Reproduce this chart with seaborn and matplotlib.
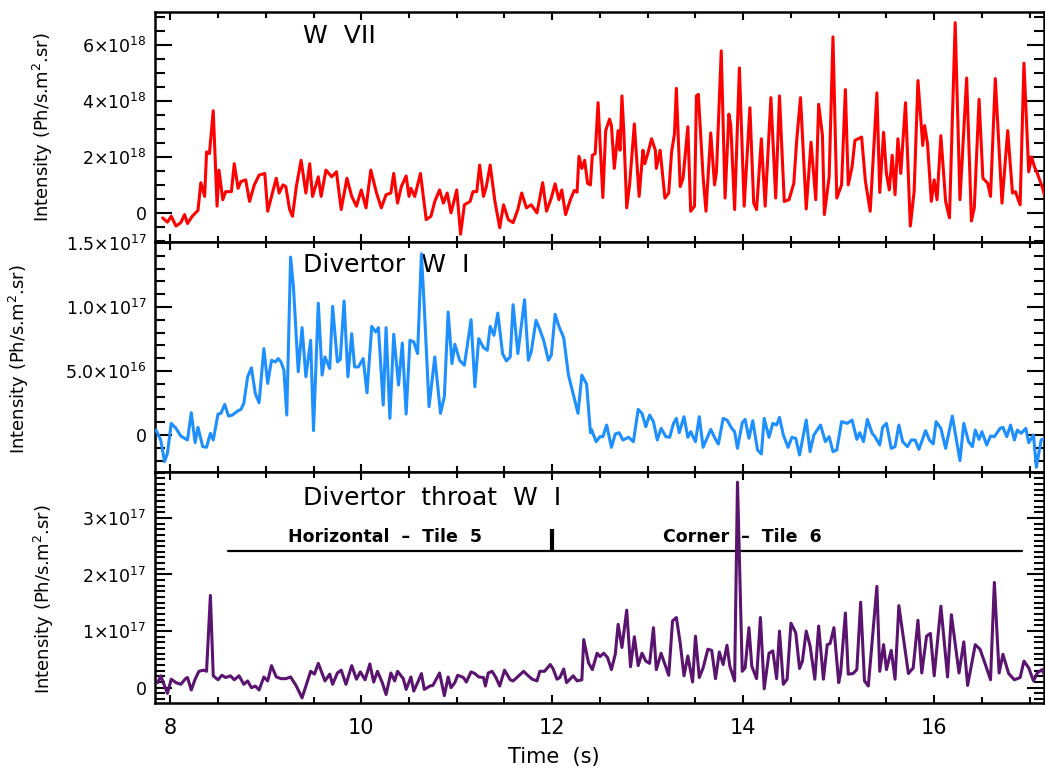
import numpy as np
import matplotlib
matplotlib.use("Agg")
import matplotlib.pyplot as plt
from matplotlib.ticker import MultipleLocator, FuncFormatter
import seaborn as sns

# ---------------------------------------------------------------
# W VII line intensity (time in s, intensity in 1e18 Ph/s.m2.sr)
# ---------------------------------------------------------------
wvii_time = [
    7.92, 7.97, 8.01, 8.06, 8.11, 8.15, 8.18, 8.23, 8.29, 8.32, 8.36, 8.38, 8.41, 8.45,
    8.49, 8.51, 8.55, 8.58, 8.64, 8.67, 8.71, 8.74, 8.79, 8.83, 8.88, 8.93, 8.99, 9.02,
    9.07, 9.11, 9.14, 9.18, 9.21, 9.25, 9.28, 9.32, 9.37, 9.42, 9.46, 9.49, 9.55, 9.58,
    9.63, 9.69, 9.74, 9.79, 9.85, 9.90, 9.95, 10.00, 10.05, 10.10, 10.16, 10.21, 10.26,
    10.31, 10.34, 10.38, 10.42, 10.47, 10.50, 10.52, 10.56, 10.62, 10.68, 10.73, 10.77,
    10.82, 10.86, 10.90, 10.94, 11.00, 11.04, 11.08, 11.14, 11.17, 11.21, 11.24, 11.28,
    11.31, 11.35, 11.40, 11.45, 11.49, 11.54, 11.59, 11.64, 11.68, 11.73, 11.78, 11.84,
    11.90, 11.94, 11.99, 12.03, 12.07, 12.10, 12.14, 12.19, 12.23, 12.26,
    12.28, 12.31, 12.34, 12.37, 12.40, 12.42, 12.45, 12.48, 12.53, 12.56, 12.60, 12.62,
    12.65, 12.69, 12.71, 12.73, 12.75, 12.78, 12.81, 12.86, 12.91, 12.95, 12.97, 13.01,
    13.04, 13.08, 13.09, 13.13, 13.18, 13.22, 13.25, 13.28, 13.30, 13.34, 13.37, 13.42,
    13.45, 13.49, 13.51, 13.53, 13.58, 13.61, 13.66, 13.70, 13.72, 13.77, 13.81, 13.85,
    13.87, 13.91, 13.96, 14.01, 14.07, 14.11, 14.14, 14.19, 14.23, 14.29, 14.34, 14.38,
    14.43, 14.48, 14.53, 14.56, 14.60, 14.66, 14.71, 14.76, 14.79, 14.83, 14.85, 14.90,
    14.94, 14.98, 15.03, 15.07, 15.10, 15.14, 15.17, 15.24, 15.28, 15.33, 15.40, 15.43,
    15.47, 15.50, 15.53, 15.56, 15.59, 15.62, 15.65, 15.70, 15.75, 15.79, 15.83, 15.88,
    15.90, 15.93, 15.97, 16.00, 16.03, 16.07, 16.12, 16.16, 16.22, 16.27, 16.34, 16.39,
    16.42, 16.47, 16.51, 16.56, 16.59, 16.64, 16.71, 16.77, 16.82, 16.85, 16.90, 16.94,
    16.99, 17.02, 17.05, 17.08, 17.13, 17.17,
]
wvii_value = [
    -0.18, -0.33, -0.12, -0.47, -0.35, -0.06, -0.38, -0.12, 0.09, 1.08, 0.59, 2.18, 2.12, 3.65,
    0.24, 1.53, 0.47, 0.76, 0.76, 1.76, 0.88, 1.12, 1.18, 0.41, 1.00, 1.35, 1.41, 0.06,
    0.71, 1.24, 0.71, 1.00, 0.94, 0.12, -0.12, 0.94, 1.88, 0.71, 1.76, 0.59, 1.29, 0.59,
    1.53, 1.29, 1.47, 0.12, 1.24, 0.59, 0.24, 0.82, 0.18, 1.53, 0.71, 0.18, 0.65,
    0.71, 1.41, 0.35, 0.94, 1.32, 0.59, 0.88, 0.59, 1.41, -0.24, -0.12, 0.41,
    0.82, 0.35, 0.71, 0.00, 0.82, -0.76, 0.29, 0.41, 0.76, 0.76, 1.71, 0.59,
    0.94, 1.71, 0.41, -0.53, 0.29, -0.24, -0.35, 0.12, 0.71, 0.18, 0.29, 0.00,
    1.08, 0.06, 0.53, 1.04, 0.47, 0.82, -0.06, 0.47, 0.80, 0.74,
    2.02, 1.59, 1.88, 1.06, 1.00, 2.06, 2.12, 3.94, 0.55, 2.94, 3.35, 3.12,
    1.59, 2.94, 2.24, 4.18, 2.88, 0.18, 1.00, 3.18, 0.59, 2.24, 1.76, 2.24,
    2.65, 2.24, 1.59, 2.24, 0.53, 0.71, 2.18, 2.82, 4.45, 0.94, 1.24, 3.08,
    0.06, 0.24, 4.18, 4.24, 1.29, 0.06, 2.86, 1.00, 1.47, 5.79, 0.53, 3.53,
    3.12, 0.12, 5.18, 0.24, 3.76, 0.35, 0.12, 2.65, 0.24, 4.12, 0.53, 4.18,
    0.41, 0.47, 1.06, 2.59, 4.12, 0.14, 2.53, 0.47, 3.88, 2.76, -0.06, 1.29,
    6.29, 0.53, 1.00, 4.41, 1.00, 1.65, 2.59, 2.71, 1.12, 0.06, 4.29, 0.73,
    2.88, 1.41, 0.82, 2.06, 0.65, 2.65, 1.41, 3.94, -0.47, 0.76, 4.73, 2.41,
    3.12, 2.47, 0.41, 1.18, 0.47, 2.76, 0.41, -0.18, 6.80, 0.47, 4.82, -0.29,
    0.18, 4.06, 1.24, 1.06, 0.59, 4.80, 0.35, 2.94, 0.71, 0.76, 0.29, 5.35,
    1.47, 2.00, 1.65, 1.41, 0.94, 0.47,
]

# ---------------------------------------------------------------
# Divertor W I (time in s, intensity in 1e16 Ph/s.m2.sr)
# ---------------------------------------------------------------
div_time = [
    7.85, 7.90, 7.94, 7.97, 8.01, 8.06, 8.11, 8.18, 8.22, 8.26, 8.29, 8.34, 8.38, 8.42,
    8.45, 8.50, 8.53, 8.57, 8.61, 8.65, 8.71, 8.74, 8.77, 8.81, 8.85, 8.89, 8.93, 8.98,
    9.02, 9.06, 9.10, 9.13, 9.16, 9.19, 9.22, 9.26, 9.29, 9.34, 9.38, 9.42, 9.47, 9.50,
    9.55, 9.59, 9.62, 9.67, 9.70, 9.75, 9.78, 9.82, 9.86, 9.90, 9.93, 9.97, 10.02, 10.06,
    10.11, 10.15, 10.18, 10.23, 10.26, 10.30, 10.34, 10.39, 10.43, 10.47, 10.51, 10.55,
    10.59, 10.63, 10.66, 10.71, 10.77, 10.83, 10.87, 10.91, 10.95, 10.98, 11.03, 11.08,
    11.15, 11.19, 11.23, 11.28, 11.32, 11.35, 11.39, 11.43, 11.48, 11.52, 11.56, 11.59,
    11.64, 11.71, 11.75, 11.78, 11.83, 11.86, 11.91, 11.96, 11.99, 12.03, 12.07, 12.12,
    12.17, 12.22, 12.27, 12.31, 12.36, 12.40,
    12.41, 12.46, 12.50, 12.53, 12.57, 12.62, 12.66, 12.70, 12.74, 12.80, 12.85, 12.90,
    12.94, 12.98, 13.02, 13.06, 13.10, 13.14, 13.19, 13.23, 13.27, 13.30, 13.33, 13.38,
    13.42, 13.45, 13.50, 13.54, 13.58, 13.62, 13.66, 13.71, 13.74, 13.79, 13.83, 13.88,
    13.91, 13.94, 13.99, 14.02, 14.06, 14.10, 14.15, 14.19, 14.22, 14.27, 14.31, 14.35,
    14.38, 14.42, 14.47, 14.51, 14.55, 14.59, 14.66, 14.70, 14.74, 14.81, 14.86, 14.90,
    14.94, 14.98, 15.03, 15.09, 15.14, 15.19, 15.22, 15.26, 15.30, 15.35, 15.38, 15.43,
    15.46, 15.50, 15.55, 15.59, 15.63, 15.67, 15.72, 15.76, 15.80, 15.84, 15.91, 15.95,
    15.99, 16.02, 16.07, 16.12, 16.19, 16.27, 16.31, 16.36, 16.40, 16.43, 16.47, 16.50,
    16.55, 16.59, 16.63, 16.69, 16.72, 16.76, 16.80, 16.84, 16.87, 16.91, 16.96, 16.99,
    17.04, 17.07, 17.12, 17.16,
]
div_value = [
    0.39, -0.39, -2.08, -1.43, 0.91, 0.52, -0.08, -0.39, 1.74, -0.60, 0.60, -0.91, -0.96, 0.13,
    -0.39, 1.64, 1.69, 2.39, 1.48, 1.56, 1.90, 2.00, 2.47, 4.55, 5.25, 3.25, 2.52, 6.75,
    4.03, 5.84, 5.71, 5.97, 5.71, 5.06, 1.56, 13.90, 11.56, 4.94, 8.39, 4.55, 7.40, 0.34,
    10.30, 4.68, 6.10, 5.19, 10.05, 5.71, 5.90, 10.47, 4.55, 7.92, 5.32, 5.32, 5.97, 3.30,
    8.49, 8.05, 8.39, 2.34, 8.39, 1.30, 7.87, 3.90, 7.19, 1.64, 7.40, 7.27,
    6.36, 14.16, 10.00, 2.21, 6.10, 1.69, 2.99, 9.61, 5.58, 7.09, 5.84, 5.45,
    9.01, 3.77, 7.53, 6.83, 6.62, 8.49, 7.79, 9.53, 6.36, 5.79, 6.10, 10.18,
    6.36, 10.57, 5.84, 6.49, 8.96, 8.44, 7.40, 5.84, 6.23, 9.43, 8.49, 7.61,
    4.68, 3.19, 1.69, 4.68, 3.97, 0.18,
    0.44, -0.52, -0.13, -0.13, 0.78, -0.96, 0.08, 0.18, -0.39, -0.18, -0.52, 2.00,
    1.69, 0.65, 1.56, 1.04, -0.39, 0.52, -0.13, -0.18, 0.91, 1.30, 0.18, 1.43,
    -0.18, 0.26, -0.52, 1.43, -0.96, -0.26, 0.44, -0.34, -0.70, 1.30, 1.17, 0.52,
    0.26, -1.04, 0.96, 1.22, -0.26, 1.12, -1.17, -1.48, 1.30, -0.18, 0.91, 0.78,
    1.38, 0.00, -0.96, -0.18, -0.26, -1.56, 1.17, -1.30, 0.00, 0.78, -0.52, -0.13,
    -1.30, -1.17, 1.04, 0.91, 1.17, -0.34, 0.18, -0.52, 1.22, 0.13, -0.13, -0.78,
    0.60, 0.91, -1.04, -0.91, 0.78, -0.52, -0.91, -0.39, -0.39, -1.12, 0.34, -0.39,
    -0.70, 1.04, 0.52, -1.04, 1.48, -2.00, 0.91, -0.52, -0.91, 0.39, -0.34, 0.26,
    -0.78, -0.08, -0.13, 0.52, 0.60, -0.13, 0.78, -0.39, 0.39, 0.13, 0.52, -0.60,
    0.00, -2.52, -0.39, -0.26,
]

# ---------------------------------------------------------------
# Divertor throat W I (time in s, intensity in 1e17 Ph/s.m2.sr)
# ---------------------------------------------------------------
throat_time = [
    7.87, 7.90, 7.94, 7.97, 8.01, 8.06, 8.11, 8.16, 8.18, 8.22, 8.26, 8.30, 8.35, 8.38,
    8.42, 8.45, 8.50, 8.54, 8.58, 8.63, 8.67, 8.72, 8.77, 8.81, 8.85, 8.89, 8.93, 8.98,
    9.02, 9.06, 9.11, 9.16, 9.21, 9.26, 9.32, 9.38, 9.42, 9.47, 9.51, 9.55, 9.59, 9.62,
    9.67, 9.70, 9.75, 9.79, 9.84, 9.90, 9.95, 9.99, 10.04, 10.09, 10.13, 10.17, 10.22,
    10.26, 10.31, 10.35, 10.38, 10.44, 10.47, 10.52, 10.55, 10.59, 10.63, 10.66, 10.72,
    10.75, 10.82, 10.87, 10.91, 10.94, 10.98, 11.01, 11.07, 11.10, 11.15, 11.19, 11.23,
    11.28, 11.30, 11.33, 11.37, 11.41, 11.45, 11.50, 11.56, 11.59, 11.63, 11.70, 11.73,
    11.79, 11.84, 11.87, 11.92, 11.98, 12.01, 12.05, 12.08, 12.12, 12.15, 12.19, 12.22,
    12.26, 12.31,
    12.33, 12.38, 12.42, 12.47, 12.50, 12.54, 12.58, 12.62, 12.66, 12.69, 12.73, 12.78,
    12.82, 12.86, 12.90, 12.94, 12.98, 13.02, 13.06, 13.09, 13.14, 13.16, 13.22, 13.26,
    13.30, 13.34, 13.38, 13.42, 13.47, 13.50, 13.54, 13.58, 13.63, 13.67, 13.71, 13.75,
    13.79, 13.83, 13.86, 13.91, 13.94, 13.99, 14.02, 14.06, 14.09, 14.14, 14.18, 14.22,
    14.27, 14.31, 14.35, 14.38, 14.42, 14.46, 14.50, 14.55, 14.59, 14.62, 14.66, 14.70,
    14.75, 14.79, 14.84, 14.88, 14.91, 14.95, 15.00, 15.02, 15.07, 15.10, 15.15, 15.19,
    15.23, 15.27, 15.31, 15.40, 15.43, 15.47, 15.50, 15.55, 15.59, 15.63, 15.67, 15.73,
    15.78, 15.83, 15.87, 15.92, 15.96, 16.00, 16.07, 16.14, 16.18, 16.26, 16.31, 16.35,
    16.43, 16.48, 16.53, 16.59, 16.63, 16.68, 16.72, 16.78, 16.84, 16.90, 16.94, 16.99,
    17.04, 17.08, 17.13, 17.16,
]
throat_value = [
    0.09, 0.21, 0.03, -0.10, 0.15, 0.09, 0.06, 0.16, 0.18, -0.04, 0.15, 0.29, 0.31, 0.29,
    1.63, 0.21, 0.14, 0.22, 0.18, 0.21, 0.14, 0.21, 0.06, 0.12, 0.00, 0.03, -0.04, 0.19,
    0.12, 0.39, 0.19, 0.16, 0.16, 0.19, 0.03, -0.18, 0.03, 0.29, 0.24, 0.43, 0.25, 0.12,
    0.24, 0.06, 0.26, 0.31, 0.06, 0.39, 0.15, 0.28, 0.14, 0.42, 0.10, 0.29, 0.09,
    -0.12, 0.26, 0.12, 0.29, 0.16, -0.03, 0.19, -0.06, 0.09, 0.25, -0.03, 0.03,
    0.04, 0.26, -0.14, 0.19, 0.00, 0.09, 0.22, 0.18, 0.10, 0.28, 0.25, 0.19,
    0.18, 0.03, 0.26, 0.29, 0.18, 0.03, 0.31, 0.14, 0.12, 0.18, 0.29, 0.24,
    0.15, 0.12, 0.29, 0.29, 0.41, 0.33, 0.15, 0.18, 0.33, 0.09, 0.16, 0.21,
    0.12, 0.14,
    0.85, 0.44, 0.32, 0.61, 0.55, 0.61, 0.53, 0.32, 0.59, 1.12, 0.71, 1.37,
    0.37, 0.90, 0.39, 0.61, 0.47, 0.43, 1.06, 0.32, 0.61, 0.51, 0.22, 1.18,
    1.24, 0.79, 0.21, 0.56, 0.10, 0.91, 0.18, 0.35, 0.68, 0.66, 0.16, 0.63,
    0.41, 0.75, 0.38, 0.12, 3.63, 0.29, 0.35, 1.06, 0.38, 0.16, 1.24, -0.02,
    0.61, 0.65, 0.16, 1.00, 0.06, 0.15, 1.14, 0.97, 0.34, 0.47, 1.00, 0.74,
    0.15, 1.09, 0.15, 0.76, 0.78, 1.06, 0.09, 0.26, 1.32, 0.24, 0.25, 0.32,
    1.51, 0.12, 0.03, 1.79, 0.29, 0.76, 0.32, 0.66, 0.15, 1.45, 0.97, 0.25,
    0.35, 1.19, 0.26, 0.91, 0.96, 0.21, 1.44, 0.19, 1.29, 0.26, 0.81, 0.04,
    0.76, 0.68, 0.44, 0.14, 1.86, 0.26, 0.59, 0.25, 0.14, 0.18, 0.47, 0.35,
    0.12, 0.26, 0.32, 0.21,
]

# Target-tile ranges marked along the divertor throat trace
tile_names = ["Horizontal  \u2013  Tile  5", "Corner  \u2013  Tile  6"]
tile_span = [8.60, 16.92]        # s
tile_switch = 12.0               # s
tile_level = 2.41                # 1e17
tile_switch_top = 2.80           # 1e17

panel_titles = ["W  VII", "Divertor  W  I", "Divertor  throat  W  I"]
time_ticks = [8, 10, 12, 14, 16]

RED = "#ff0000"
BLUE = "#1e8fff"
PURPLE = "#5a1470"

sns.set_theme(style="ticks")
plt.rcParams.update({
    "font.family": ["DejaVu Sans"],
    "mathtext.fontset": "dejavusans",
    "axes.linewidth": 1.8,
    "axes.edgecolor": "black",
    "axes.labelcolor": "black",
    "text.color": "black",
    "xtick.color": "black",
    "ytick.color": "black",
    "xtick.labelcolor": "black",
    "ytick.labelcolor": "black",
})

fig = plt.figure(figsize=(10.45, 7.73), dpi=100)
W, H = 1045.0, 773.0
left = 155 / W
width = 889 / W
ax1 = fig.add_axes([left, 1 - 242 / H, width, 230 / H])
ax2 = fig.add_axes([left, 1 - 472 / H, width, 230 / H])
ax3 = fig.add_axes([left, 1 - 703 / H, width, 231 / H])


def sci_formatter(decimals):
    def fmt(v, pos):
        if abs(v) < 1e10:
            return "0"
        e = int(np.floor(np.log10(abs(v)) + 1e-9))
        m = v / 10 ** e
        return rf"${m:.{decimals}f}{{\times}}10^{{{e}}}$"
    return FuncFormatter(fmt)


series = [
    (ax1, wvii_time, np.array(wvii_value) * 1e18, RED),
    (ax2, div_time, np.array(div_value) * 1e16, BLUE),
    (ax3, throat_time, np.array(throat_value) * 1e17, PURPLE),
]
for ax, t, v, c in series:
    sns.lineplot(x=t, y=v, ax=ax, color=c, lw=2.2, estimator=None, sort=False, zorder=3)

# y scales
ax1.set_ylim(-1.04e18, 7.18e18)
ax1.yaxis.set_major_locator(MultipleLocator(2e18))
ax1.yaxis.set_minor_locator(MultipleLocator(5e17))
ax1.yaxis.set_major_formatter(sci_formatter(0))

ax2.set_ylim(-2.89e16, 1.508e17)
ax2.yaxis.set_major_locator(MultipleLocator(5e16))
ax2.yaxis.set_minor_locator(MultipleLocator(1e16))
ax2.yaxis.set_major_formatter(sci_formatter(1))

ax3.set_ylim(-0.27e17, 3.81e17)
ax3.yaxis.set_major_locator(MultipleLocator(1e17))
ax3.yaxis.set_minor_locator(MultipleLocator(1e16))
ax3.yaxis.set_major_formatter(sci_formatter(0))

ylabel = r"Intensity (Ph/s.m$^{2}$.sr)"
label_x = [-0.112, -0.139, -0.111]
label_y = [0.50, 0.49, 0.45]
title_y = [0.896, 0.90, 0.887]
for i, ax in enumerate((ax1, ax2, ax3)):
    ax.set_xlim(7.84, 17.15)
    ax.set_xticks(time_ticks)
    ax.xaxis.set_minor_locator(MultipleLocator(0.5))
    ax.tick_params(which="both", direction="in", top=True, right=True, width=1.5)
    ax.tick_params(axis="x", which="major", length=6)
    ax.tick_params(axis="x", which="minor", length=4)
    ax.tick_params(axis="y", which="major", length=12, labelsize=12.5, pad=6)
    ax.tick_params(axis="y", which="minor", length=7)
    ax.tick_params(axis="x", labelsize=15, pad=11)
    ax.set_ylabel(ylabel, fontsize=13)
    ax.yaxis.set_label_coords(label_x[i], label_y[i])
    ax.set_xlabel("")
    ax.text(0.1665, title_y[i], panel_titles[i], transform=ax.transAxes,
            fontsize=18, ha="left", va="center", zorder=2)
    for s in ax.spines.values():
        s.set_visible(True)
        s.set_linewidth(1.8)

for ax in (ax1, ax2):
    ax.tick_params(axis="x", labelbottom=False)

# tile ranges on the lower panel
ax3.plot(tile_span, [tile_level * 1e17] * 2, color="black", lw=1.6, zorder=1)
ax3.plot([tile_switch, tile_switch], [tile_level * 1e17, tile_switch_top * 1e17],
         color="black", lw=3, zorder=1, solid_capstyle="butt")
ax3.text(0.1496, 0.719, tile_names[0], transform=ax3.transAxes, fontsize=12.5,
         fontweight="bold", ha="left", va="center")
ax3.text(0.571, 0.719, tile_names[1], transform=ax3.transAxes, fontsize=12.5,
         fontweight="bold", ha="left", va="center")

ax3.set_xlabel("Time  (s)", fontsize=15)
ax3.xaxis.set_label_coords(0.449, -0.19)

fig.savefig("out.png", dpi=100)
